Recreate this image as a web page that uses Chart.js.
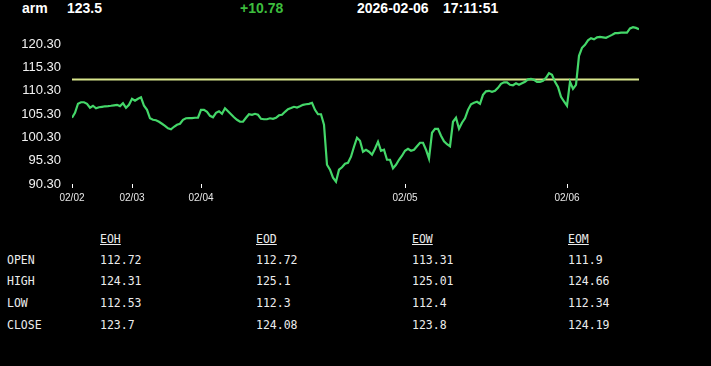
<!DOCTYPE html>
<html>
<head>
<meta charset="utf-8">
<script src="https://cdn.jsdelivr.net/npm/chart.js@4"></script>
<style>
  html, body { margin: 0; padding: 0; background: #000; }
  body { width: 711px; height: 366px; position: relative; overflow: hidden; }
  #chartBox { position: absolute; left: 0; top: 0; width: 711px; height: 210px; }
  .hdr { position: absolute; top: 0; font: bold 14px 'Liberation Sans', Arial, sans-serif; line-height: 16px; color: #fff; white-space: nowrap; }
  .cell { position: absolute; font: 11.5px 'DejaVu Sans Mono', monospace; line-height: 13px; color: #ececec; white-space: nowrap; }
  .cell.head { text-decoration: underline; }
</style>
</head>
<body>
<div class="hdr" style="left:22px">arm</div>
<div class="hdr" style="left:67px">123.5</div>
<div class="hdr" style="left:240px;color:#3dbd3d">+10.78</div>
<div class="hdr" style="left:357px">2026-02-06</div>
<div class="hdr" style="left:443px">17:11:51</div>
<div id="chartBox"><canvas id="priceChart" width="711" height="210"></canvas></div>
<div id="table"></div>
<script>
// price per sample (roughly every few minutes over the week)
const prices = [
    104.5, 105.57, 107.5, 107.82, 107.82, 107.5, 106.64, 107.07, 106.53, 106.75,
    106.85, 106.96, 107.0, 107.07, 107.17, 107.28, 107.0, 107.6, 106.64, 107.28,
    108.57, 108.15, 108.57, 108.89, 107.07, 106.2, 104.39, 104.07, 103.96, 103.64,
    103.21, 102.78, 102.25, 102.03, 102.57, 103.0, 103.21, 104.07, 104.39, 104.43,
    104.43, 104.5, 104.5, 106.2, 106.2, 105.78, 104.92, 104.6, 105.57, 105.89,
    105.35, 106.53, 105.89, 105.25, 104.6, 104.07, 103.64, 103.64, 104.5, 105.25,
    105.14, 105.35, 105.14, 104.28, 104.18, 104.18, 104.39, 104.28, 104.5, 105.03,
    105.14, 105.78, 106.32, 106.57, 106.85, 106.7, 106.96, 107.28, 107.39, 107.49,
    107.71, 106.2, 105.25, 105.25, 103.0, 94.43, 93.36, 91.65, 90.79, 93.36,
    93.89, 94.65, 94.86, 96.15, 98.29, 100.21, 99.57, 97.22, 97.64, 97.22,
    96.57, 97.86, 99.36, 97.43, 97.64, 95.5, 95.5, 93.68, 94.43, 95.5,
    96.36, 97.43, 97.86, 97.43, 97.64, 98.39, 99.14, 99.14, 97.64, 95.72,
    101.28, 102.13, 102.13, 100.64, 99.46, 98.82, 98.39, 103.64, 104.5, 102.14,
    103.43, 104.39, 106.2, 107.39, 107.71, 107.92, 107.5, 109.42, 110.17, 110.28,
    110.06, 110.28, 110.92, 111.78, 112.1, 112.1, 111.56, 111.46, 111.88, 111.56,
    111.88, 112.2, 112.74, 112.85, 112.63, 112.2, 112.2, 112.42, 113.06, 114.07,
    113.7, 112.2, 111.13, 108.99, 107.99, 107.07, 112.2, 110.71, 111.56, 117.77,
    119.49, 120.13, 121.09, 121.56, 121.31, 121.73, 121.84, 121.73, 121.63, 121.95,
    122.27, 122.63, 122.63, 122.76, 122.76, 122.76, 123.66, 123.92, 123.77, 123.5
];
const dayIdx = [0, 20, 43, 111, 165];
const dayLabels = ['02/02', '02/03', '02/04', '02/05', '02/06'];
const yTicks = [90.3, 95.3, 100.3, 105.3, 110.3, 115.3, 120.3];
const prevClose = 112.72;

const colLabels = ['EOH', 'EOD', 'EOW', 'EOM'];
const rowLabels = ['OPEN', 'HIGH', 'LOW', 'CLOSE'];
const openVals  = ['112.72', '112.72', '113.31', '111.9'];
const highVals  = ['124.31', '125.1', '125.01', '124.66'];
const lowVals   = ['112.53', '112.3', '112.4', '112.34'];
const closeVals = ['123.7', '124.08', '123.8', '124.19'];

// table below the chart
const table = document.getElementById('table');
const colX = [100, 256, 412, 568];
const rowY = [253.5, 275, 296.5, 319];
const rowVals = [openVals, highVals, lowVals, closeVals];
const addCell = (txt, x, y, cls) => {
    const d = document.createElement('div');
    d.className = 'cell' + (cls ? ' ' + cls : '');
    d.style.left = x + 'px';
    d.style.top = y + 'px';
    d.textContent = txt;
    table.appendChild(d);
};
colLabels.forEach((c, i) => addCell(c, colX[i], 232.5, 'head'));
rowLabels.forEach((r, j) => {
    addCell(r, 7, rowY[j]);
    rowVals[j].forEach((v, i) => addCell(v, colX[i], rowY[j]));
});

Chart.defaults.font.family = "'Liberation Sans', Arial, sans-serif";
Chart.defaults.color = '#f0f0f0';

const lastIdx = prices.length - 1;

new Chart(document.getElementById('priceChart'), {
    type: 'line',
    data: {
        datasets: [
            {
                data: prices.map((p, i) => ({ x: i, y: p })),
                borderColor: '#44d769',
                borderWidth: 2.2,
                pointRadius: 0,
                tension: 0,
                fill: false
            },
            {
                data: [{ x: 0, y: prevClose }, { x: lastIdx, y: prevClose }],
                borderColor: '#d8e58c',
                borderWidth: 2,
                pointRadius: 0,
                fill: false
            }
        ]
    },
    options: {
        responsive: false,
        animation: false,
        events: [],
        layout: { padding: { left: 0, right: 72, top: 24, bottom: 2 } },
        plugins: { legend: { display: false }, tooltip: { enabled: false } },
        scales: {
            x: {
                type: 'linear',
                min: 0,
                max: lastIdx,
                afterBuildTicks: (scale) => { scale.ticks = dayIdx.map(v => ({ value: v })); },
                ticks: {
                    autoSkip: false,
                    maxRotation: 0,
                    padding: 4,
                    font: { size: 10 },
                    color: '#e8e8e8',
                    callback: (v) => dayLabels[dayIdx.indexOf(v)]
                },
                grid: { display: true, drawOnChartArea: false, drawTicks: true, tickLength: 4, color: '#ffffff' },
                border: { display: false }
            },
            y: {
                min: 90.3,
                max: 124.6,
                afterBuildTicks: (scale) => { scale.ticks = yTicks.map(v => ({ value: v })); },
                afterFit: (scale) => { scale.width = 72; },
                ticks: {
                    padding: 11,
                    font: { size: 13 },
                    color: '#f2f2f2',
                    callback: (v) => v.toFixed(2)
                },
                grid: { display: false, drawTicks: false },
                border: { display: false }
            }
        }
    }
});
</script>
</body>
</html>
